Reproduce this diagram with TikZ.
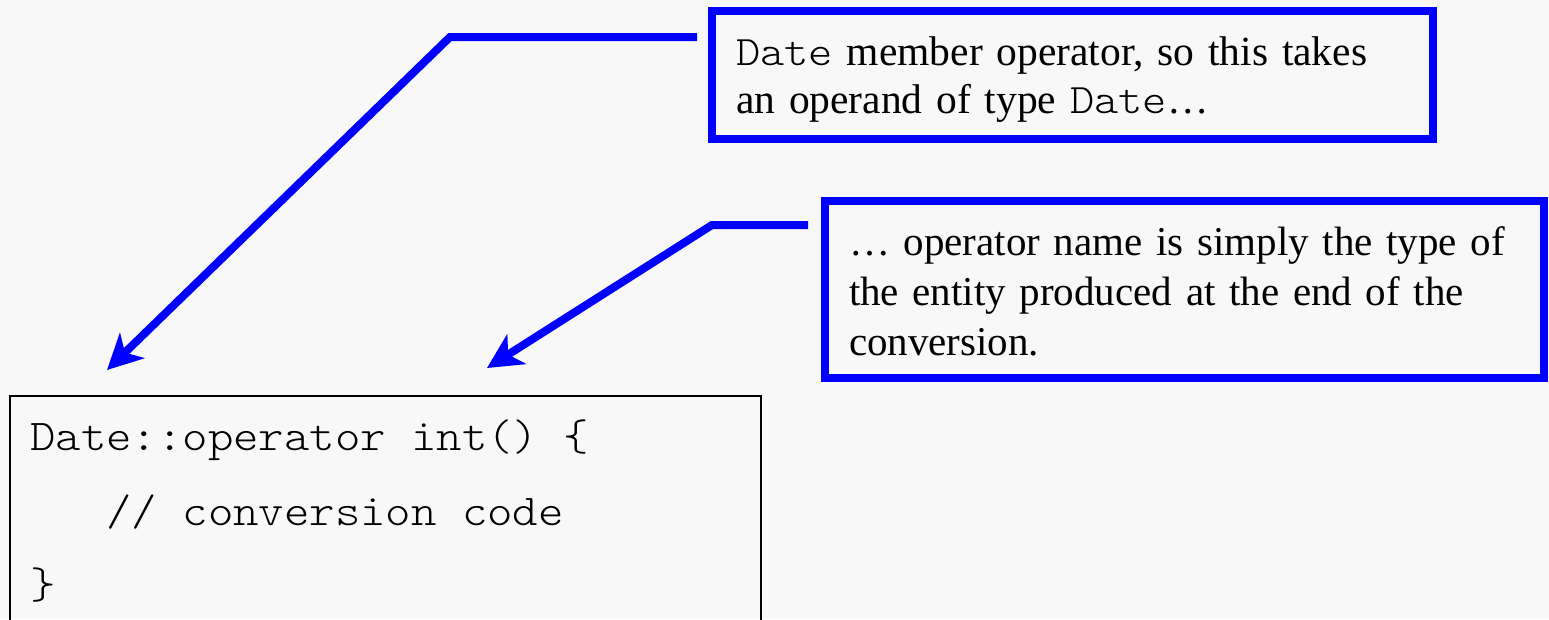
\documentclass[tikz,border=0pt]{standalone}
\usepackage{fontspec}
\setmainfont{Liberation Serif}
\newfontfamily\codefont{lmmonolt10-regular}[Extension=.otf, FakeStretch=1.1]
\usetikzlibrary{arrows.meta}
\definecolor{bg}{RGB}{248,248,248}
\definecolor{pblue}{RGB}{0,0,255}
\newcommand{\cd}[1]{{\codefont\fontsize{42}{48}\selectfont #1}}
\begin{document}
\begin{tikzpicture}[x=1pt,y=-1pt,
  note/.style={draw=pblue, line width=8pt, fill=bg, rectangle, inner ysep=0pt, inner xsep=24pt,
    outer sep=0pt, align=left},
  codebox/.style={draw=black, line width=2pt, rectangle, inner sep=0pt, outer sep=0pt},
  codetext/.style={anchor=base west, inner sep=0pt, font=\codefont\fontsize{44}{50}\selectfont},
  callout/.style={draw=pblue, line width=8pt, -{Stealth[length=35pt,width=35pt,inset=10pt]}}]
\useasboundingbox (0,0) rectangle (1549,619);
\path[clip] (0,0) rectangle (1549,619);
\fill[bg] (0,0) rectangle (1549,619);
% code box
\node[codebox, anchor=north west, minimum width=751pt, minimum height=260pt] (code) at (10,396) {};
\node[codetext] (c1) at (30,450) {Date::operator int() \{};
\node[codetext] (c2) at (30,525) {\ \ \ // conversion code};
\node[codetext] (c3) at (30,598) {\}};
% notes
\node[note, minimum width=721pt, minimum height=128pt, text width=673pt,
  font=\fontsize{41.5}{48}\selectfont] (n1) at (1072.5,75)
  {\rule{0pt}{38pt}\cd{Date} member operator, so this takes\\ an operand of type \cd{Date}…\rule[-10pt]{0pt}{10pt}};
\node[note, minimum width=719pt, minimum height=177pt, text width=671pt,
  font=\fontsize{41}{50}\selectfont] (n2) at (1184.5,289.5)
  {\rule{0pt}{41pt}… operator name is simply the type of\\ the entity produced at the end of the\\ conversion.\rule[-10pt]{0pt}{10pt}};
% connectors
\coordinate (s1) at (697,37);
\coordinate (k1) at (450,37);
\coordinate (t1) at (107,370);
\coordinate (s2) at (808,225);
\coordinate (k2) at (712,225);
\coordinate (t2) at (487,368);
\draw[callout] (s1) -- (k1) -- (t1);
\draw[callout] (s2) -- (k2) -- (t2);
\end{tikzpicture}
\end{document}
